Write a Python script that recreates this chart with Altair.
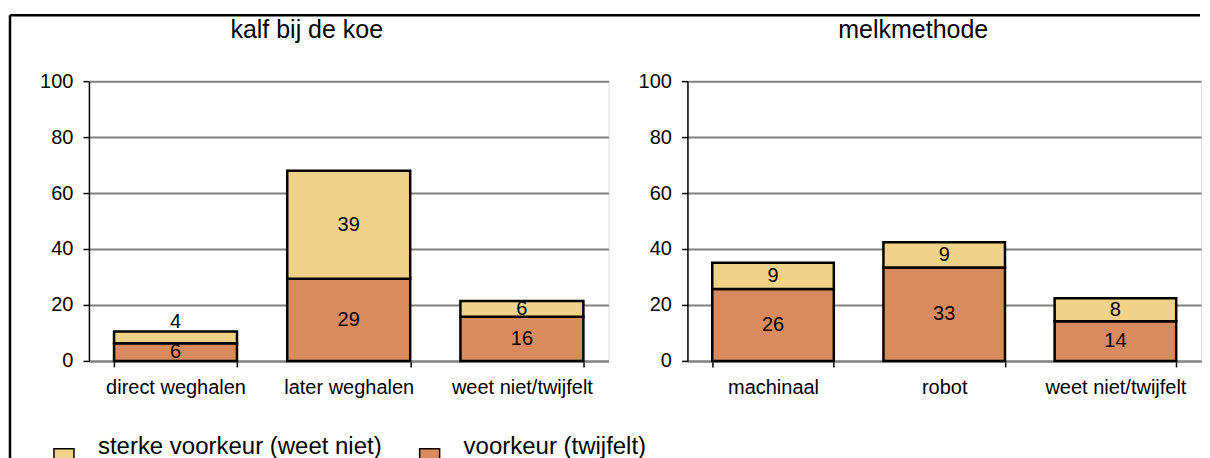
import altair as alt
import pandas as pd

panel_titles = ["kalf bij de koe", "melkmethode"]
cats_left = ["direct weghalen", "later weghalen", "weet niet/twijfelt"]
cats_right = ["machinaal", "robot", "weet niet/twijfelt"]
series = ["sterke voorkeur (weet niet)", "voorkeur (twijfelt)"]
voorkeur_left = [6.3, 29.4, 15.8]
sterke_left = [4.2, 38.6, 5.6]
voorkeur_right = [25.7, 33.4, 14.2]
sterke_right = [9.4, 9.0, 8.2]
colors = ["#F0D288", "#D98A5E"]
y_ticks = [0, 20, 40, 60, 80, 100]

FONT = "Liberation Sans"


def make_df(cats, voorkeur, sterke):
    rows = []
    for c, v, s in zip(cats, voorkeur, sterke):
        rows.append({"cat": c, "series": series[1], "value": v, "order": 0})
        rows.append({"cat": c, "series": series[0], "value": s, "order": 1})
    return pd.DataFrame(rows)


def panel(df, cats, title, width, title_x, show_legend, frame=False):
    base = alt.Chart(df).transform_stack(
        stack="value", groupby=["cat"], as_=["y0", "y1"],
        sort=[alt.SortField("order", order="ascending")]
    ).transform_calculate(
        mid="(datum.y1 - datum.y0) < 5 ? datum.y1 + 3.5 : (datum.y0 + datum.y1) / 2"
    )

    xenc = alt.X(
        "cat:N", sort=cats, title=None,
        scale=alt.Scale(paddingInner=0.29, paddingOuter=0.145),
        axis=alt.Axis(labelAngle=0, tickBand="extent", grid=False,
                      domainColor="#808080", domainWidth=2,
                      tickColor="black", tickSize=6, tickWidth=1.5,
                      labelFontSize=20, labelPadding=11, labelColor="black",
                      labelFont=FONT),
    )
    yscale = alt.Scale(domain=[0, 100], nice=False)
    legend = alt.Legend(
        orient="none", legendX=-37, legendY=366, direction="horizontal",
        title=None, symbolType="square", symbolSize=400,
        symbolStrokeColor="black", symbolStrokeWidth=1.5,
        labelFontSize=24, labelFont=FONT, labelColor="black",
        labelOffset=22, columnPadding=34, labelLimit=500,
        labelBaseline="bottom", symbolOpacity=1,
    ) if show_legend else None

    bars = base.mark_bar(stroke="black", strokeWidth=2.5).encode(
        x=xenc,
        y=alt.Y("y0:Q", scale=yscale, title=None,
                axis=alt.Axis(values=y_ticks, grid=True, gridColor="#808080",
                              gridWidth=2, domainColor="black", domainWidth=1.5,
                              tickColor="black", tickSize=6, tickWidth=1.5,
                              labelFontSize=20, labelPadding=10,
                              labelColor="black", labelFont=FONT)),
        y2="y1:Q",
        color=alt.Color("series:N", scale=alt.Scale(domain=series, range=colors),
                        legend=legend),
    )
    text = base.mark_text(fontSize=20, font=FONT, color="black",
                          baseline="middle").encode(
        x=alt.X("cat:N", sort=cats),
        y=alt.Y("mid:Q", scale=yscale),
        text=alt.Text("value:Q", format=".0f"),
    )
    title_mark = alt.Chart(alt.Data(values=[{"t": title}])).mark_text(
        fontSize=25, font=FONT, color="black", align="center",
        baseline="alphabetic").encode(
        x=alt.value(title_x), y=alt.value(-43), text="t:N")
    layers = [bars, text, title_mark]
    if frame:
        fd = alt.Data(values=[{"k": 0}])
        top_line = alt.Chart(fd).mark_rule(color="black", strokeWidth=2.5).encode(
            x=alt.value(-79), x2=alt.value(1112), y=alt.value(-66), y2=alt.value(-66))
        left_line = alt.Chart(fd).mark_rule(color="black", strokeWidth=2.5).encode(
            x=alt.value(-79), x2=alt.value(-79), y=alt.value(-66), y2=alt.value(400))
        layers += [top_line, left_line]
    return alt.layer(*layers).properties(width=width, height=280)


left = panel(make_df(cats_left, voorkeur_left, sterke_left), cats_left,
             panel_titles[0], 520, 218, True, frame=True)
right = panel(make_df(cats_right, voorkeur_right, sterke_right), cats_right,
              panel_titles[1], 514, 226, False)

chart = alt.hconcat(left, right, spacing=79, bounds="flush").resolve_scale(
    color="shared"
).properties(
    padding={"left": 0, "top": 5, "right": 0, "bottom": 0}
).configure_view(stroke=None).configure(background="white")

chart.save("out.html", embed_options={"renderer": "svg", "actions": False})
